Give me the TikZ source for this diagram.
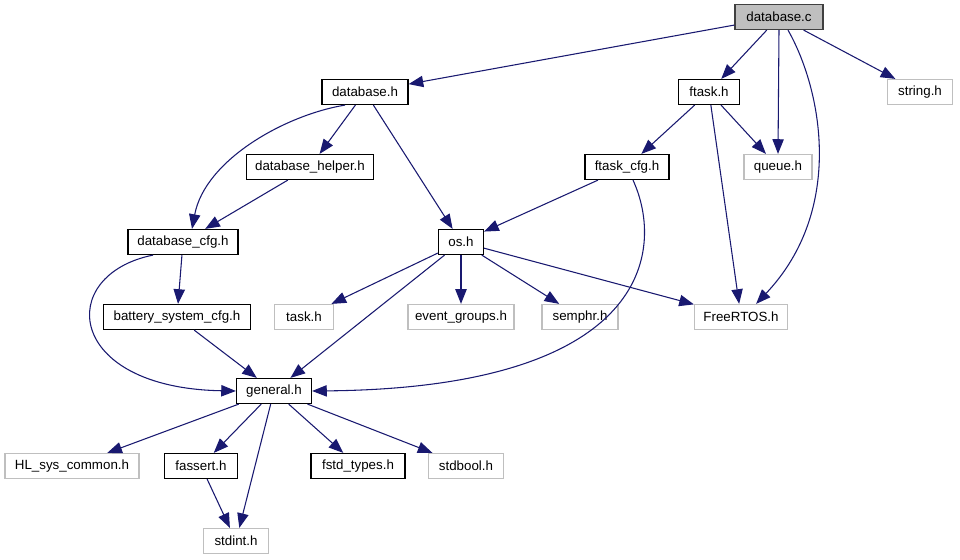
\documentclass[tikz,border=0pt]{standalone}
\usepackage{fontspec}
\setmainfont{Liberation Sans}
\usetikzlibrary{arrows.meta}

\definecolor{edgeblue}{HTML}{191970}
\definecolor{boxgray}{HTML}{BFBFBF}

\tikzset{
  hdr/.style={draw=black, fill=white, line width=0.9pt, font=\fontsize{10}{12}\selectfont,
    minimum height=18.75pt, inner sep=0pt, minimum width=#1*0.75pt},
  ext/.style={hdr=#1, draw=boxgray},
  src/.style={hdr=#1, fill=boxgray, draw=black!75},
  dep/.style={draw=edgeblue, line width=0.8pt, -{Triangle[length=11pt,width=8.5pt]}}
}

\begin{document}
\begin{tikzpicture}[x=0.75pt, y=-0.75pt]
    \useasboundingbox (0,0) rectangle (960,560);

    \node[src=88] (dbc) at (779,17) {database.c};
    \node[hdr=86] (dbh) at (365,92) {database.h};
    \node[hdr=61] (ftask) at (709,92) {ftask.h};
    \node[ext=65] (string) at (920,92) {string.h};
    \node[hdr=127] (helper) at (310,167) {database\_helper.h};
    \node[hdr=84] (ftaskcfg) at (627,167) {ftask\_cfg.h};
    \node[ext=68] (queue) at (778,167) {queue.h};
    \node[hdr=110] (dbcfg) at (183,242) {database\_cfg.h};
    \node[hdr=45] (os) at (461,242) {os.h};
    \node[hdr=147] (bscfg) at (177,317) {battery\_system\_cfg.h};
    \node[ext=59] (task) at (304,317) {task.h};
    \node[ext=106] (evgroups) at (461,317) {event\_groups.h};
    \node[ext=76] (semphr) at (580,317) {semphr.h};
    \node[ext=93] (freertos) at (741,317) {FreeRTOS.h};
    \node[hdr=75] (general) at (274,391) {general.h};
    \node[ext=134] (hlsys) at (72,466) {HL\_sys\_common.h};
    \node[hdr=73] (fassert) at (201,466) {fassert.h};
    \node[hdr=94] (fstd) at (358,466) {fstd\_types.h};
    \node[ext=75] (stdbool) at (466,466) {stdbool.h};
    \node[ext=65] (stdint) at (236,541) {stdint.h};

    % database.c
    \draw[dep] (dbc) -- (dbh);
    \draw[dep] (dbc) -- (ftask);
    \draw[dep] (dbc.south) -- (queue.north);
    \draw[dep] ([xshift=6.75pt]dbc.south) .. controls (822,90) and (845,210) .. ([xshift=-24pt]freertos.north east);
    \draw[dep] (dbc) -- (string);

    % database.h
    \draw[dep] ([xshift=-15pt]dbh.south) .. controls (285,115) and (205,160) .. ([xshift=6.75pt]dbcfg.north);
    \draw[dep] (dbh) -- (helper);
    \draw[dep] (dbh) -- (os);
    \draw[dep] (helper) -- (dbcfg);

    % ftask.h
    \draw[dep] (ftask) -- (ftaskcfg);
    \draw[dep] (ftask) -- (queue);
    \draw[dep] (ftask) -- (freertos);
    \draw[dep] (ftaskcfg) -- (os);
    \draw[dep] ([xshift=4.5pt]ftaskcfg.south) .. controls (665,250) and (650,388) .. (general.east);

    % database_cfg.h
    \draw[dep] (dbcfg) -- (bscfg);
    \draw[dep] ([xshift=-22.5pt]dbcfg.south) .. controls (55,275) and (65,388) .. (general.west);
    \draw[dep] (bscfg) -- (general);

    % os.h
    \draw[dep] (os) -- (task);
    \draw[dep] (os) -- (evgroups);
    \draw[dep] (os) -- (semphr);
    \draw[dep] (os) -- (freertos);
    \draw[dep] (os) -- (general);

    % general.h
    \draw[dep] (general) -- (hlsys);
    \draw[dep] (general) -- (fassert);
    \draw[dep] (general) -- (stdint);
    \draw[dep] (general) -- (fstd);
    \draw[dep] (general) -- (stdbool);
    \draw[dep] (fassert) -- (stdint);

  \end{tikzpicture}
\end{document}
